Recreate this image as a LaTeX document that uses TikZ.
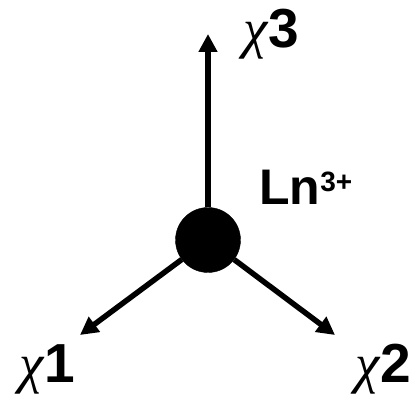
\documentclass[tikz,border=0pt]{standalone}
\usepackage{fontspec}
\setmainfont{Liberation Sans}
\newfontfamily\greekfont{Liberation Serif}
\usetikzlibrary{arrows.meta, positioning, calc}
\tikzset{
    ion/.style={circle, fill=black, draw=black, minimum size=65pt, inner sep=0pt},
    axis/.style={line width=5.5pt, -{Triangle[length=18pt, width=18pt]}},
    chilabel/.style={font=\bfseries\fontsize{55}{55}\selectfont, inner sep=0pt},
    ionlabel/.style={font=\bfseries\fontsize{50}{50}\selectfont, inner sep=0pt}
}
\newcommand{\chisym}{{\greekfont\itshape\mdseries χ}\kern1pt}
\newcommand{\charge}[1]{\raisebox{13pt}{\fontsize{28}{28}\selectfont #1}}

\begin{document}
\begin{tikzpicture}[x=1pt, y=1pt]
        \useasboundingbox (0,0) rectangle (409,396);
        % Metal ion
        \node (ln) [ion] at (208,156) {};
        \node (lnlabel) [ionlabel, anchor=base west] at (259,191) {Ln\charge{3+}};

        % Axis ends
        \coordinate (end3) at (208,362);
        \coordinate (end1) at (80,61);
        \coordinate (end2) at (335,61);

        % Labels
        \node (chi3) [chilabel, anchor=base west] at (243,348) {\chisym 3};
        \node (chi1) [chilabel, anchor=base west] at (19,14) {\chisym 1};
        \node (chi2) [chilabel, anchor=base west] at (355,14) {\chisym 2};

        % Axes
        \draw[axis] (ln) -- (end3);
        \draw[axis] (ln) -- (end1);
        \draw[axis] (ln) -- (end2);
    \end{tikzpicture}
\end{document}
